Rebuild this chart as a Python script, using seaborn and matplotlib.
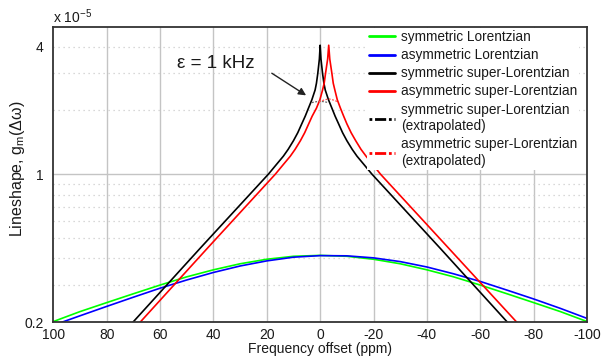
import seaborn as sns
import matplotlib
matplotlib.use("Agg")
from matplotlib import pyplot as plt
from matplotlib.lines import Line2D

# Lorentzian lineshapes (units of 1e-5)
lor_x = [100, 90, 80, 70, 60, 50, 40, 30, 20, 10, 0,
         -10, -20, -30, -40, -50, -60, -70, -80, -90, -100]
sym_lor = [0.201, 0.224, 0.247, 0.272, 0.299, 0.327, 0.353, 0.377, 0.396, 0.409, 0.413,
           0.409, 0.396, 0.377, 0.353, 0.327, 0.299, 0.272, 0.247, 0.224, 0.201]
asym_lor = [0.193, 0.214, 0.237, 0.262, 0.289, 0.316, 0.343, 0.368, 0.389, 0.405, 0.412,
            0.411, 0.402, 0.386, 0.364, 0.338, 0.311, 0.283, 0.257, 0.232, 0.208]

# super-Lorentzian lineshapes
sl_y = [0.146, 0.2, 0.446, 1.0, 1.107, 1.216, 1.31, 1.44, 1.57, 1.73, 1.88, 2.05,
        2.25, 2.5, 2.69, 2.99, 3.5, 4.07,
        3.5, 2.99, 2.69, 2.5, 2.25,
        2.05, 1.88, 1.73, 1.57, 1.44, 1.31, 1.216, 1.107, 1.0, 0.446, 0.2, 0.146]
sym_sl_x = [80, 70.1, 45, 19.4, 16.5, 13.8, 12.0, 10.0, 8.4, 6.9, 5.6, 4.4,
            3.1, 1.9, 1.4, 0.9, 0.3, 0,
            -0.3, -0.9, -1.4, -1.9, -3.1,
            -4.4, -5.6, -6.9, -8.4, -10.0, -12.0, -13.8, -16.5, -19.4, -45, -70.1, -80]
asym_sl_x = [77.3, 67.4, 42.3, 16.8, 13.9, 11.2, 9.4, 7.4, 5.8, 4.3, 3.0, 1.4,
             0.1, -0.9, -1.5, -2.0, -2.8, -3.2,
             -3.6, -4.4, -4.9, -5.5, -6.4,
             -7.6, -8.8, -10.0, -11.6, -13.3, -15.3, -17.2, -19.8, -22.6, -48.2, -73.6, -83.5]

# extrapolated peak region
sym_ext_x = [3.1, 1.5, 0, -1.5, -3.1]
sym_ext_y = [2.18, 2.2, 2.21, 2.2, 2.18]
asym_ext_x = [0.4, -1.4, -3.2, -5.0, -6.6]
asym_ext_y = [2.2, 2.24, 2.27, 2.24, 2.2]

x_ticks = [100, 80, 60, 40, 20, 0, -20, -40, -60, -80, -100]
y_ticks = [0.2, 1, 4]
y_minor = [0.3, 0.4, 0.5, 0.6, 0.7, 0.8, 0.9, 2, 3, 4]

sns.set_theme(style="white")
plt.rcParams['font.family'] = ['Liberation Sans', 'DejaVu Sans']

fig = plt.figure(figsize=(6.02, 3.56), dpi=100)
ax = fig.add_axes([0.0886, 0.0955, 0.8865, 0.828])
ax.set_yscale("log")

lw = 1.2
sns.lineplot(x=lor_x, y=sym_lor, color="#00ff00", lw=lw, sort=False, estimator=None, ax=ax)
sns.lineplot(x=lor_x, y=asym_lor, color="#0000ff", lw=lw, sort=False, estimator=None, ax=ax)
sns.lineplot(x=sym_sl_x, y=sl_y, color="black", lw=lw, sort=False, estimator=None, ax=ax)
sns.lineplot(x=asym_sl_x, y=sl_y, color="#ff0000", lw=lw, sort=False, estimator=None, ax=ax)
sns.lineplot(x=sym_ext_x, y=sym_ext_y, color="#666666", lw=0.9, linestyle=(0, (1.5, 1.2)),
             sort=False, estimator=None, ax=ax)
sns.lineplot(x=asym_ext_x, y=asym_ext_y, color="#ff5050", lw=0.9, linestyle=(0, (1.5, 1.2)),
             sort=False, estimator=None, ax=ax)

ax.set_xlim(100, -100)
ax.set_ylim(0.2, 4.95)

# grid: solid vertical lines, dotted log minor lines, solid line at 1
for xv in x_ticks[1:-1]:
    ax.axvline(xv, color="#c4c4c4", lw=1, zorder=0)
for yv in y_minor:
    ax.axhline(yv, color="#cccccc", lw=0.9, linestyle=(0, (1, 3)), zorder=0)
ax.axhline(1, color="#c4c4c4", lw=1, zorder=0)

ax.set_xticks(x_ticks)
ax.set_xticklabels([str(v) for v in x_ticks])
ax.set_yticks(y_ticks)
ax.set_yticklabels(["0.2", "1", "4"])
ax.yaxis.set_minor_locator(matplotlib.ticker.NullLocator())
ax.tick_params(axis="both", length=0, labelsize=10, colors="#1a1a1a")
ax.tick_params(axis="y", pad=7)
ax.tick_params(axis="x", pad=4)

for sp in ax.spines.values():
    sp.set_color("#333333")
    sp.set_linewidth(1.3)
    sp.set_zorder(6)

ax.set_xlabel("Frequency offset (ppm)", fontsize=10, labelpad=0, color="#1a1a1a")
ax.set_ylabel(r"Lineshape, g$_{\mathregular{m}}$(Δω)", fontsize=11.5, color="#1a1a1a")
ax.yaxis.set_label_coords(-0.05, 0.52)
ax.text(0.0, 1.014, r"x 10$^{\mathregular{-5}}$", transform=ax.transAxes, fontsize=10,
        ha="left", va="baseline", color="#1a1a1a")

ax.text(39.2, 3.35, "ε = 1 kHz", fontsize=13.5, ha="center", va="center", color="#1a1a1a")
ax.annotate("", xy=(4.4, 2.32), xytext=(19.0, 3.05),
            arrowprops=dict(arrowstyle="-|>", color="#222222", lw=1, mutation_scale=11))

handles = [
    Line2D([], [], color="#00ff00", lw=2),
    Line2D([], [], color="#0000ff", lw=2),
    Line2D([], [], color="black", lw=2),
    Line2D([], [], color="#ff0000", lw=2),
    Line2D([], [], color="black", lw=2, linestyle=(0, (1, 1, 4, 1))),
    Line2D([], [], color="#ff0000", lw=2, linestyle=(0, (1, 1, 4, 1))),
]
labels = ["symmetric Lorentzian", "asymmetric Lorentzian", "symmetric super-Lorentzian",
          "asymmetric super-Lorentzian", "symmetric super-Lorentzian\n(extrapolated)",
          "asymmetric super-Lorentzian\n(extrapolated)"]
leg = ax.legend(handles, labels, loc="upper left", bbox_to_anchor=(0.575, 1.02), fontsize=9.8,
                frameon=True, framealpha=1, facecolor="white", edgecolor="none",
                handlelength=1.9, handletextpad=0.45, labelspacing=0.3, borderpad=0.15,
                fancybox=False)
for t in leg.get_texts():
    t.set_color("#1a1a1a")
    t.set_linespacing(1.25)

fig.savefig("out.png", dpi=100)
